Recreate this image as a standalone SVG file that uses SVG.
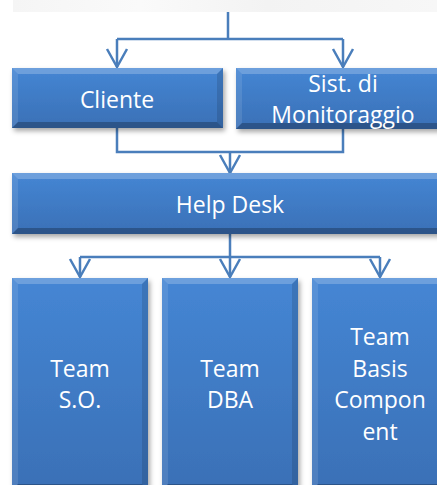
<svg xmlns="http://www.w3.org/2000/svg" width="437" height="485" viewBox="0 0 437 485">
  <defs>
    <linearGradient id="fillG" x1="0" y1="0" x2="0" y2="1">
      <stop offset="0" stop-color="#4586d4"/>
      <stop offset="1" stop-color="#3a70b6"/>
    </linearGradient>
    <linearGradient id="bandG" x1="0" y1="0" x2="1" y2="0">
      <stop offset="0" stop-color="#f5f5f5"/>
      <stop offset="0.3" stop-color="#fafafa"/>
      <stop offset="0.6" stop-color="#f3f3f3"/>
      <stop offset="1" stop-color="#f7f7f7"/>
    </linearGradient>
    <filter id="shadow" x="-10%" y="-10%" width="130%" height="130%">
      <feDropShadow dx="2" dy="3" stdDeviation="2.5" flood-color="#000" flood-opacity="0.35"/>
    </filter>
    <marker id="arrow" markerUnits="userSpaceOnUse" markerWidth="24" markerHeight="24" refX="20" refY="12" orient="auto" viewBox="0 0 24 24">
      <path d="M2,2 L20,12 L2,22" fill="none" stroke="#4a7ebb" stroke-width="2.5"/>
    </marker>
    <style>
      .box { fill: url(#fillG); filter: url(#shadow); }
      .bt { fill: #ffffff; opacity: 0.22; }
      .bl { fill: #ffffff; opacity: 0.10; }
      .br { fill: #000000; opacity: 0.12; }
      .bb { fill: #000000; opacity: 0.25; }
      .lbl { font-family: "Open Sans", "Noto Sans", sans-serif; font-size: 23px; fill: #ffffff; text-anchor: middle; }
      .conn { fill: none; stroke: #4a7ebb; stroke-width: 2.5; }
    </style>
  </defs>

  <rect x="0" y="0" width="437" height="485" fill="#ffffff"/>
  <rect x="13" y="0" width="424" height="12" fill="url(#bandG)"/>

  <g id="connectors">
    <path class="conn" d="M228,12 V39 M117,39 H343"/>
    <path class="conn" d="M117,39 V67" marker-end="url(#arrow)"/>
    <path class="conn" d="M343,39 V67" marker-end="url(#arrow)"/>
    <path class="conn" d="M117,128 V152 H343 V129"/>
    <path class="conn" d="M230,152 V173" marker-end="url(#arrow)"/>
    <path class="conn" d="M230,234 V257 M80,257 H380"/>
    <path class="conn" d="M80,257 V277" marker-end="url(#arrow)"/>
    <path class="conn" d="M230,257 V277" marker-end="url(#arrow)"/>
    <path class="conn" d="M380,257 V277" marker-end="url(#arrow)"/>
  </g>

  <g id="cliente">
    <rect class="box" x="12" y="68" width="211" height="60"/>
    <polygon class="bt" points="12,68 223,68 217,74 18,74"/>
    <polygon class="bl" points="12,68 18,74 18,122 12,128"/>
    <polygon class="br" points="223,68 223,128 217,122 217,74"/>
    <polygon class="bb" points="12,128 18,122 217,122 223,128"/>
    <text class="lbl" x="117" y="108">Cliente</text>
  </g>

  <g id="monitoraggio">
    <rect class="box" x="236" y="68" width="214" height="61"/>
    <polygon class="bt" points="236,68 450,68 444,74 242,74"/>
    <polygon class="bl" points="236,68 242,74 242,123 236,129"/>
    <polygon class="bb" points="236,129 242,123 444,123 450,129"/>
    <text class="lbl" x="343" y="92">Sist. di</text>
    <text class="lbl" x="343" y="123">Monitoraggio</text>
  </g>

  <g id="helpdesk">
    <rect class="box" x="12" y="173" width="436" height="61"/>
    <polygon class="bt" points="12,173 448,173 442,179 18,179"/>
    <polygon class="bl" points="12,173 18,179 18,228 12,234"/>
    <polygon class="bb" points="12,234 18,228 442,228 448,234"/>
    <text class="lbl" x="230" y="213">Help Desk</text>
  </g>

  <g id="team-so">
    <rect class="box" x="12" y="278" width="136" height="212"/>
    <polygon class="bt" points="12,278 148,278 142,284 18,284"/>
    <polygon class="bl" points="12,278 18,284 18,484 12,490"/>
    <polygon class="br" points="148,278 148,490 142,484 142,284"/>
    <polygon class="bb" points="12,490 18,484 142,484 148,490"/>
    <text class="lbl" x="80" y="377">Team</text>
    <text class="lbl" x="80" y="408">S.O.</text>
  </g>

  <g id="team-dba">
    <rect class="box" x="162" y="278" width="136" height="212"/>
    <polygon class="bt" points="162,278 298,278 292,284 168,284"/>
    <polygon class="bl" points="162,278 168,284 168,484 162,490"/>
    <polygon class="br" points="298,278 298,490 292,484 292,284"/>
    <polygon class="bb" points="162,490 168,484 292,484 298,490"/>
    <text class="lbl" x="230" y="377">Team</text>
    <text class="lbl" x="230" y="408">DBA</text>
  </g>

  <g id="team-basis">
    <rect class="box" x="312" y="278" width="136" height="212"/>
    <polygon class="bt" points="312,278 448,278 442,284 318,284"/>
    <polygon class="bl" points="312,278 318,284 318,484 312,490"/>
    <polygon class="bb" points="312,490 318,484 442,484 448,490"/>
    <text class="lbl" x="380" y="345">Team</text>
    <text class="lbl" x="380" y="377">Basis</text>
    <text class="lbl" x="380" y="408">Compon</text>
    <text class="lbl" x="380" y="440">ent</text>
  </g>
</svg>
